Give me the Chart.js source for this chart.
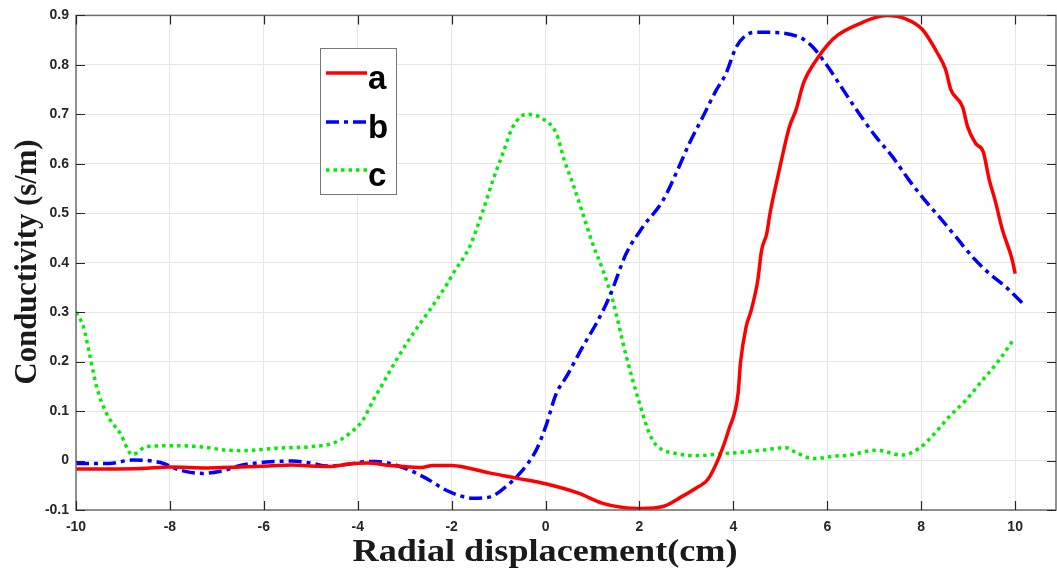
<!DOCTYPE html>
<html lang="en">
<head>
<meta charset="UTF-8">
<title>Conductivity</title>
<script src="https://cdn.jsdelivr.net/npm/chart.js"></script>
<style>
  html, body { margin: 0; padding: 0; background: #fff; }
  #wrap { position: relative; width: 1057px; height: 573px; }
</style>
</head>
<body>
<div id="wrap"><canvas id="myChart"></canvas></div>
<script>
// curve a (red, solid)
const xA = [-10, -9.3, -8.6, -8.0, -7.2, -6.5, -5.9, -5.4, -5.0, -4.6, -4.2, -3.8, -3.3, -2.9, -2.65, -2.4, -2.0, -1.7, -1.2, -0.6,
  0.0, 0.7, 1.2, 1.65, 2.05, 2.5, 2.9, 3.25, 3.45, 3.7, 3.9, 4.1, 4.15, 4.27, 4.38, 4.52, 4.6, 4.71, 4.78, 4.96,
  5.19, 5.33, 5.5, 5.76, 6.0, 6.22, 6.68, 7.0, 7.27, 7.67, 8.02, 8.35, 8.52, 8.63, 8.88, 8.99, 9.16, 9.32, 9.45, 9.57,
  9.73, 9.94, 10.0];
const yA = [-0.017, -0.017, -0.016, -0.013, -0.015, -0.013, -0.011, -0.009, -0.011, -0.012, -0.007, -0.005, -0.010, -0.013, -0.014, -0.010, -0.010, -0.014, -0.025, -0.036,
  -0.047, -0.066, -0.086, -0.095, -0.097, -0.093, -0.073, -0.053, -0.039, 0.008, 0.062, 0.136, 0.197, 0.27, 0.304, 0.365, 0.425, 0.459, 0.5, 0.58,
  0.674, 0.708, 0.765, 0.809, 0.84, 0.86, 0.883, 0.895, 0.9, 0.893, 0.872, 0.823, 0.79, 0.75, 0.715, 0.674, 0.641, 0.624, 0.567, 0.527,
  0.466, 0.405, 0.378];

// curve b (blue, dash-dot)
const xB = [-10, -9.3, -8.8, -8.2, -7.8, -7.3, -6.9, -6.45, -5.95, -5.4, -4.95, -4.67, -4.24, -3.8, -3.6, -3.1, -2.6, -2.05, -1.55, -1.2,
  -0.85, -0.55, -0.2, 0.0, 0.23, 0.44, 0.79, 1.08, 1.36, 1.72, 2.07, 2.5, 2.8, 3.06, 3.35, 3.63, 3.84, 4.06, 4.27, 4.48,
  4.98, 5.47, 5.69, 5.97, 6.3, 6.68, 7.04, 7.39, 7.74, 8.08, 8.38, 8.74, 9.09, 9.45, 9.8, 10.16];
const yB = [-0.006, -0.006, 0.001, -0.004, -0.019, -0.026, -0.021, -0.009, -0.003, -0.001, -0.006, -0.011, -0.008, -0.002, -0.002, -0.012, -0.033, -0.063, -0.076, -0.074,
  -0.053, -0.026, 0.021, 0.068, 0.136, 0.169, 0.23, 0.277, 0.331, 0.419, 0.472, 0.526, 0.585, 0.641, 0.695, 0.748, 0.782, 0.836, 0.86, 0.866,
  0.865, 0.853, 0.836, 0.802, 0.755, 0.701, 0.654, 0.614, 0.567, 0.526, 0.493, 0.452, 0.412, 0.378, 0.351, 0.318];

// curve c (green, dotted)
const xC = [-10, -9.84, -9.7, -9.56, -9.35, -9.06, -8.8, -8.5, -7.86, -7.36, -6.79, -6.44, -5.73, -5.02, -4.53, -4.17, -3.89, -3.67, -3.53, -3.18,
  -2.82, -2.47, -2.11, -1.97, -1.62, -1.33, -1.12, -0.91, -0.7, -0.41, -0.06, 0.23, 0.4, 0.58, 0.79, 1.0, 1.22, 1.43, 1.72, 2.0,
  2.21, 2.36, 2.78, 3.2, 3.7, 4.62, 5.12, 5.3, 5.7, 6.18, 6.47, 7.04, 7.6, 7.96, 8.24, 8.6, 8.95, 9.31, 9.66, 9.98];
const yC = [0.30, 0.27, 0.21, 0.149, 0.095, 0.055, 0.012, 0.028, 0.03, 0.028, 0.021, 0.020, 0.025, 0.028, 0.035, 0.055, 0.082, 0.122, 0.145, 0.203,
  0.257, 0.304, 0.355, 0.378, 0.432, 0.506, 0.567, 0.621, 0.674, 0.70, 0.691, 0.661, 0.607, 0.56, 0.50, 0.439, 0.385, 0.324, 0.21, 0.116,
  0.055, 0.031, 0.014, 0.010, 0.013, 0.021, 0.026, 0.018, 0.004, 0.009, 0.011, 0.021, 0.011, 0.025, 0.05, 0.089, 0.122, 0.163, 0.203, 0.247];

const seriesNames = ['a', 'b', 'c'];
const xTicks = [-10, -8, -6, -4, -2, 0, 2, 4, 6, 8, 10];
const yTicks = [-0.1, 0, 0.1, 0.2, 0.3, 0.4, 0.5, 0.6, 0.7, 0.8, 0.9];
const xTitle = 'Radial displacement(cm)';
const yTitle = 'Conductivity (s/m)';

function pares(xs, ys) {
  return xs.map(function (x, i) { return { x: x, y: ys[i] }; });
}

const estilos = [
  { cor: '#ff0000', dash: [] },
  { cor: '#0000ff', dash: [13, 5, 4, 5] },
  { cor: '#00ee00', dash: [3.5, 4] }
];
const dadosSeries = [pares(xA, yA), pares(xB, yB), pares(xC, yC)];

const datasets = dadosSeries.map(function (d, i) {
  return {
    label: seriesNames[i],
    data: d,
    borderColor: estilos[i].cor,
    borderWidth: 3.5,
    borderDash: estilos[i].dash,
    pointRadius: 0,
    tension: 0.3,
    cubicInterpolationMode: 'monotone',
    fill: false
  };
});

// frame, inward ticks, titles and legend (MATLAB look)
const extras = {
  id: 'extras',
  afterDraw(chart) {
    const ctx = chart.ctx;
    const a = chart.chartArea;
    const sx = chart.scales.x, sy = chart.scales.y;
    ctx.save();
    ctx.strokeStyle = '#6e6e6e';
    ctx.lineWidth = 1.5;
    ctx.strokeRect(a.left, a.top, a.right - a.left, a.bottom - a.top);
    ctx.strokeStyle = '#262626';
    ctx.lineWidth = 1.2;
    ctx.beginPath();
    xTicks.forEach(function (v) {
      const p = Math.round(sx.getPixelForValue(v)) + 0.5;
      ctx.moveTo(p, a.bottom); ctx.lineTo(p, a.bottom - 9);
      ctx.moveTo(p, a.top); ctx.lineTo(p, a.top + 9);
    });
    yTicks.forEach(function (v) {
      const p = Math.round(sy.getPixelForValue(v)) + 0.5;
      ctx.moveTo(a.left, p); ctx.lineTo(a.left + 9, p);
      ctx.moveTo(a.right, p); ctx.lineTo(a.right - 9, p);
    });
    ctx.stroke();

    // titles
    function texto(t, cx, cy, alvo, rot) {
      ctx.save();
      ctx.font = 'bold 31px "Liberation Serif", "Times New Roman", serif';
      const w = ctx.measureText(t).width;
      ctx.translate(cx, cy);
      if (rot) ctx.rotate(-Math.PI / 2);
      ctx.scale(alvo / w, 1);
      ctx.textAlign = 'center';
      ctx.textBaseline = 'middle';
      ctx.fillStyle = '#1a1a1a';
      ctx.fillText(t, 0, 0);
      ctx.restore();
    }
    texto(xTitle, 545, 553, 385, false);
    texto(yTitle, 28, 262, 245, true);

    // legend box
    ctx.fillStyle = '#ffffff';
    ctx.fillRect(320, 48, 76, 147);
    ctx.strokeStyle = '#777777';
    ctx.lineWidth = 1;
    ctx.strokeRect(320.5, 48.5, 76, 146);
    const linhasY = [73, 122, 170];
    ctx.font = 'bold 33px "Liberation Sans", Arial, sans-serif';
    ctx.textAlign = 'left';
    ctx.textBaseline = 'alphabetic';
    seriesNames.forEach(function (n, i) {
      ctx.beginPath();
      ctx.strokeStyle = estilos[i].cor;
      ctx.lineWidth = 3.5;
      ctx.setLineDash(estilos[i].dash);
      ctx.moveTo(326, linhasY[i]);
      ctx.lineTo(367, linhasY[i]);
      ctx.stroke();
      ctx.setLineDash([]);
      ctx.fillStyle = '#000000';
      ctx.fillText(n, 368, linhasY[i] + 16);
    });
    ctx.restore();
  }
};

const fonteTicks = { family: '"Liberation Sans", Arial, sans-serif', size: 14, weight: 'bold' };

new Chart(document.getElementById('myChart'), {
  type: 'line',
  data: { datasets: datasets },
  options: {
    responsive: true,
    maintainAspectRatio: false,
    animation: false,
    layout: { padding: { top: 15, right: 1, left: 0, bottom: 0 } },
    plugins: { legend: { display: false }, tooltip: { enabled: false } },
    scales: {
      x: {
        type: 'linear',
        min: -10,
        max: 10.87,
        afterBuildTicks: function (s) { s.ticks = xTicks.map(function (v) { return { value: v }; }); },
        afterFit: function (s) { s.height = 63; },
        grid: { color: '#e6e6e6', lineWidth: 1, tickLength: 0, drawTicks: false },
        border: { display: false },
        ticks: { color: '#262626', font: fonteTicks, padding: 9, maxRotation: 0 }
      },
      y: {
        type: 'linear',
        min: -0.1,
        max: 0.9,
        afterBuildTicks: function (s) { s.ticks = yTicks.map(function (v) { return { value: v }; }); },
        afterFit: function (s) { s.width = 76; },
        grid: { color: '#e6e6e6', lineWidth: 1, tickLength: 0, drawTicks: false },
        border: { display: false },
        ticks: {
          color: '#262626', font: fonteTicks, padding: 7,
          callback: function (v) { return Math.abs(v) < 1e-9 ? '0' : v.toFixed(1); }
        }
      }
    }
  },
  plugins: [extras]
});
</script>
</body>
</html>
